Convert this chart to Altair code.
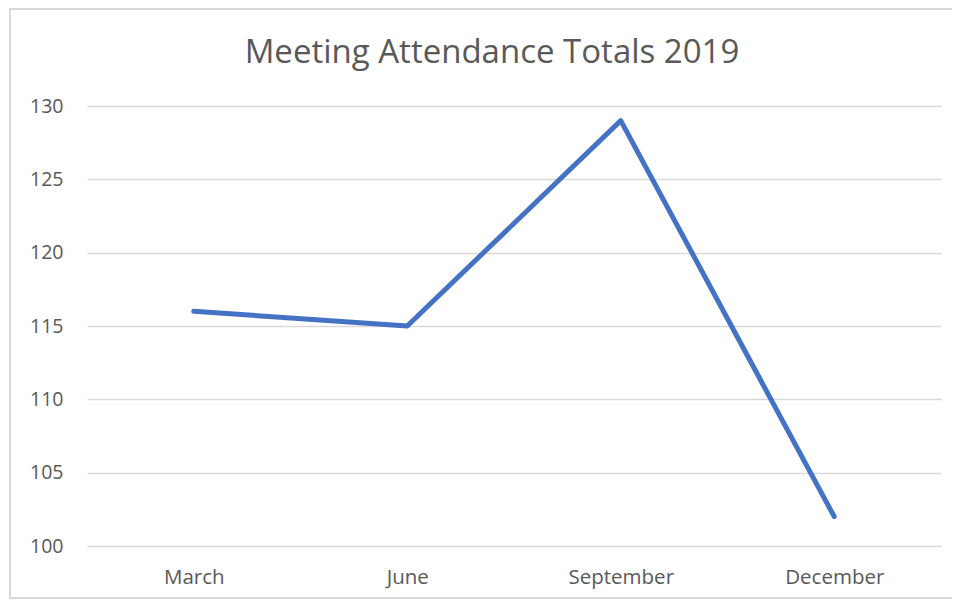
import altair as alt
import pandas as pd

months = ["March", "June", "September", "December"]
attendance = [116, 115, 129, 102]
y_ticks = [100, 105, 110, 115, 120, 125, 130]

df = pd.DataFrame({"month": months, "attendance": attendance})

FONT = "Open Sans"
TXT = "#595959"
GRID = "#D9D9D9"

one = pd.DataFrame({"a": [0]})
border_left = alt.Chart(one).mark_rule(color=GRID, strokeWidth=2).encode(
    x=alt.value(-77), y=alt.value(-97), y2=alt.value(492)
)
border_top = alt.Chart(one).mark_rule(color=GRID, strokeWidth=2).encode(
    x=alt.value(-78), x2=alt.value(900), y=alt.value(-97)
)
border_bottom = alt.Chart(one).mark_rule(color=GRID, strokeWidth=2).encode(
    x=alt.value(-78), x2=alt.value(900), y=alt.value(492)
)

line = alt.Chart(df).mark_line(
    color="#4472C4", strokeWidth=5, strokeCap="round", strokeJoin="round"
).encode(
    x=alt.X("month:N", sort=months, title=None,
            axis=alt.Axis(labelAngle=0, ticks=False, domain=False, labelPadding=21,
                          labelFontSize=20.5, labelColor=TXT, labelFont=FONT)),
    y=alt.Y("attendance:Q", title=None,
            scale=alt.Scale(domain=[100, 130], nice=False, zero=False),
            axis=alt.Axis(values=y_ticks, ticks=False, domain=False, labelPadding=24,
                          labelFontSize=19.5, labelColor=TXT, labelFont=FONT,
                          gridColor=GRID, gridWidth=1.5)),
)

chart = alt.layer(border_left, border_top, border_bottom, line).properties(
    width=854,
    height=440,
    padding={"left": 79, "top": 98, "right": 11, "bottom": 53},
    autosize=alt.AutoSizeParams(type="none"),
    title=alt.TitleParams("Meeting Attendance Totals 2019", anchor="middle", frame="group",
                          dx=-22, offset=-88, baseline="alphabetic", fontSize=33, font=FONT,
                          fontWeight="normal", color=TXT),
).configure(background="white").configure_view(stroke=None)

chart.save("out.html", embed_options={"renderer": "svg", "actions": False})
